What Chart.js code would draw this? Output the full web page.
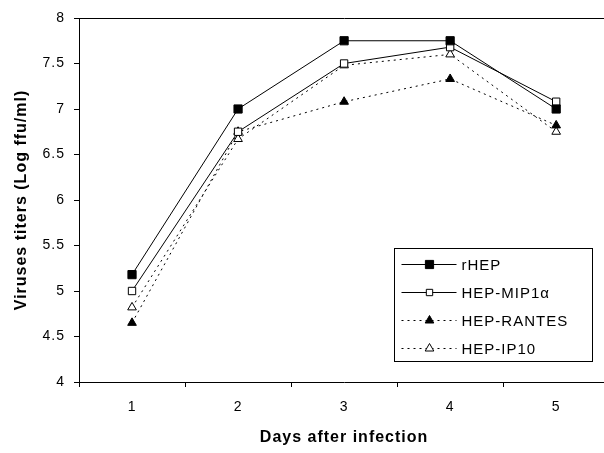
<!DOCTYPE html>
<html>
<head>
<meta charset="utf-8">
<script src="https://cdn.jsdelivr.net/npm/chart.js@4.4.1/dist/chart.umd.min.js"></script>
<style>
html, body { margin: 0; padding: 0; background: #fff; overflow: hidden; }
#wrap { width: 616px; height: 453px; }
</style>
</head>
<body>
<div id="wrap"><canvas id="chart" width="616" height="453"></canvas></div>
<script>
// Virus titers per day (Log ffu/ml)
const days = ['1', '2', '3', '4', '5'];
const yTicks = [4, 4.5, 5, 5.5, 6, 6.5, 7, 7.5, 8];
const rHEP = [5.18, 7.0, 7.75, 7.75, 7.0];
const mip1a = [5.0, 6.75, 7.5, 7.68, 7.08];
const rantes = [4.65, 6.75, 7.08, 7.33, 6.82];
const ip10 = [4.82, 6.67, 7.48, 7.6, 6.75];
const seriesNames = ['rHEP', 'HEP-MIP1α', 'HEP-RANTES', 'HEP-IP10'];

const FONT = '"Liberation Sans", Arial, sans-serif';

// draws a marker the same way for the legend
function drawMarker(ctx, style, x, y, r, fill) {
  ctx.beginPath();
  if (style === 'rect') {
    const s = r * Math.SQRT1_2;
    ctx.rect(x - s, y - s, 2 * s, 2 * s);
  } else {
    const h = r * 1.5;
    const half = r * Math.sqrt(3) / 2;
    ctx.moveTo(x, y - r);
    ctx.lineTo(x + half, y + r / 2);
    ctx.lineTo(x - half, y + r / 2);
    ctx.closePath();
  }
  ctx.fillStyle = fill;
  ctx.fill();
  ctx.strokeStyle = '#000';
  ctx.lineWidth = 1;
  ctx.stroke();
}

const spacingPlugin = {
  id: 'spacing',
  beforeDraw(chart) {
    chart.ctx.letterSpacing = '1px';
  }
};

const boxLegend = {
  id: 'boxLegend',
  afterDraw(chart) {
    const ctx = chart.ctx;
    const bx = 394.5, by = 248.5, bw = 198, bh = 113;
    ctx.save();
    ctx.fillStyle = '#fff';
    ctx.fillRect(bx, by, bw, bh);
    ctx.strokeStyle = '#000';
    ctx.lineWidth = 1;
    ctx.strokeRect(bx, by, bw, bh);
    ctx.font = '15px ' + FONT;
    ctx.textBaseline = 'middle';
    ctx.textAlign = 'left';
    chart.data.datasets.forEach((ds, i) => {
      const y = Math.round(by + 15 + i * 28) + 0.5;
      ctx.strokeStyle = '#000';
      ctx.lineWidth = 1;
      ctx.setLineDash(ds.borderDash || []);
      ctx.beginPath();
      ctx.moveTo(bx + 7, y);
      ctx.lineTo(bx + 62, y);
      ctx.stroke();
      ctx.setLineDash([]);
      drawMarker(ctx, ds.pointStyle, bx + 35, y, ds.legendRadius, ds.pointBackgroundColor);
      ctx.fillStyle = '#000';
      ctx.fillText(ds.label, bx + 67, y + 1);
    });
    ctx.restore();
  }
};

new Chart(document.getElementById('chart'), {
  type: 'line',
  data: {
    labels: days,
    datasets: [
      {
        label: seriesNames[0], data: rHEP,
        borderColor: '#000', borderWidth: 1,
        pointStyle: 'rect', pointRadius: 5.8,
        pointBackgroundColor: '#000', pointBorderColor: '#000', pointBorderWidth: 1,
        legendRadius: 5.8
      },
      {
        label: seriesNames[1], data: mip1a,
        borderColor: '#000', borderWidth: 1,
        pointStyle: 'rect', pointRadius: 5.2,
        pointBackgroundColor: '#fff', pointBorderColor: '#000', pointBorderWidth: 1,
        legendRadius: 4.5
      },
      {
        label: seriesNames[2], data: rantes,
        borderColor: '#000', borderWidth: 1, borderDash: [2, 4],
        pointStyle: 'triangle', pointRadius: 5,
        pointBackgroundColor: '#000', pointBorderColor: '#000', pointBorderWidth: 1,
        legendRadius: 5
      },
      {
        label: seriesNames[3], data: ip10,
        borderColor: '#000', borderWidth: 1, borderDash: [2, 4],
        pointStyle: 'triangle', pointRadius: 5,
        pointBackgroundColor: '#fff', pointBorderColor: '#000', pointBorderWidth: 1,
        legendRadius: 5
      }
    ]
  },
  options: {
    responsive: false,
    animation: false,
    devicePixelRatio: 1,
    layout: { padding: { top: 18, left: 0, right: 0, bottom: 0 } },
    elements: { line: { tension: 0 } },
    plugins: {
      legend: { display: false },
      tooltip: { enabled: false }
    },
    scales: {
      x: {
        offset: true,
        grid: { offset: true, drawOnChartArea: false, tickLength: 5, tickColor: '#000' },
        border: { display: true, color: '#000', width: 1 },
        ticks: { color: '#000', padding: 12, font: { family: FONT, size: 14 } },
        title: {
          display: true, text: 'Days after infection', color: '#000',
          font: { family: FONT, size: 16, weight: 'bold' },
          padding: { top: 0, bottom: 6 }
        },
        afterFit(scale) { scale.height = 71; }
      },
      y: {
        min: 4, max: 8,
        afterBuildTicks(scale) { scale.ticks = yTicks.map(v => ({ value: v })); },
        grid: {
          color: ctx => (ctx.tick && ctx.tick.value === 8 ? '#000' : 'rgba(0,0,0,0)'),
          tickColor: '#000', tickLength: 5
        },
        border: { display: true, color: '#000', width: 1 },
        ticks: {
          color: '#000', padding: 9, font: { family: FONT, size: 14 },
          callback: v => String(v)
        },
        title: {
          display: true, text: 'Viruses titers (Log ffu/ml)', color: '#000',
          font: { family: FONT, size: 16, weight: 'bold' },
          padding: { top: 12, bottom: 0 }
        },
        afterFit(scale) { scale.width = 79; }
      }
    }
  },
  plugins: [spacingPlugin, boxLegend]
});
</script>
</body>
</html>
